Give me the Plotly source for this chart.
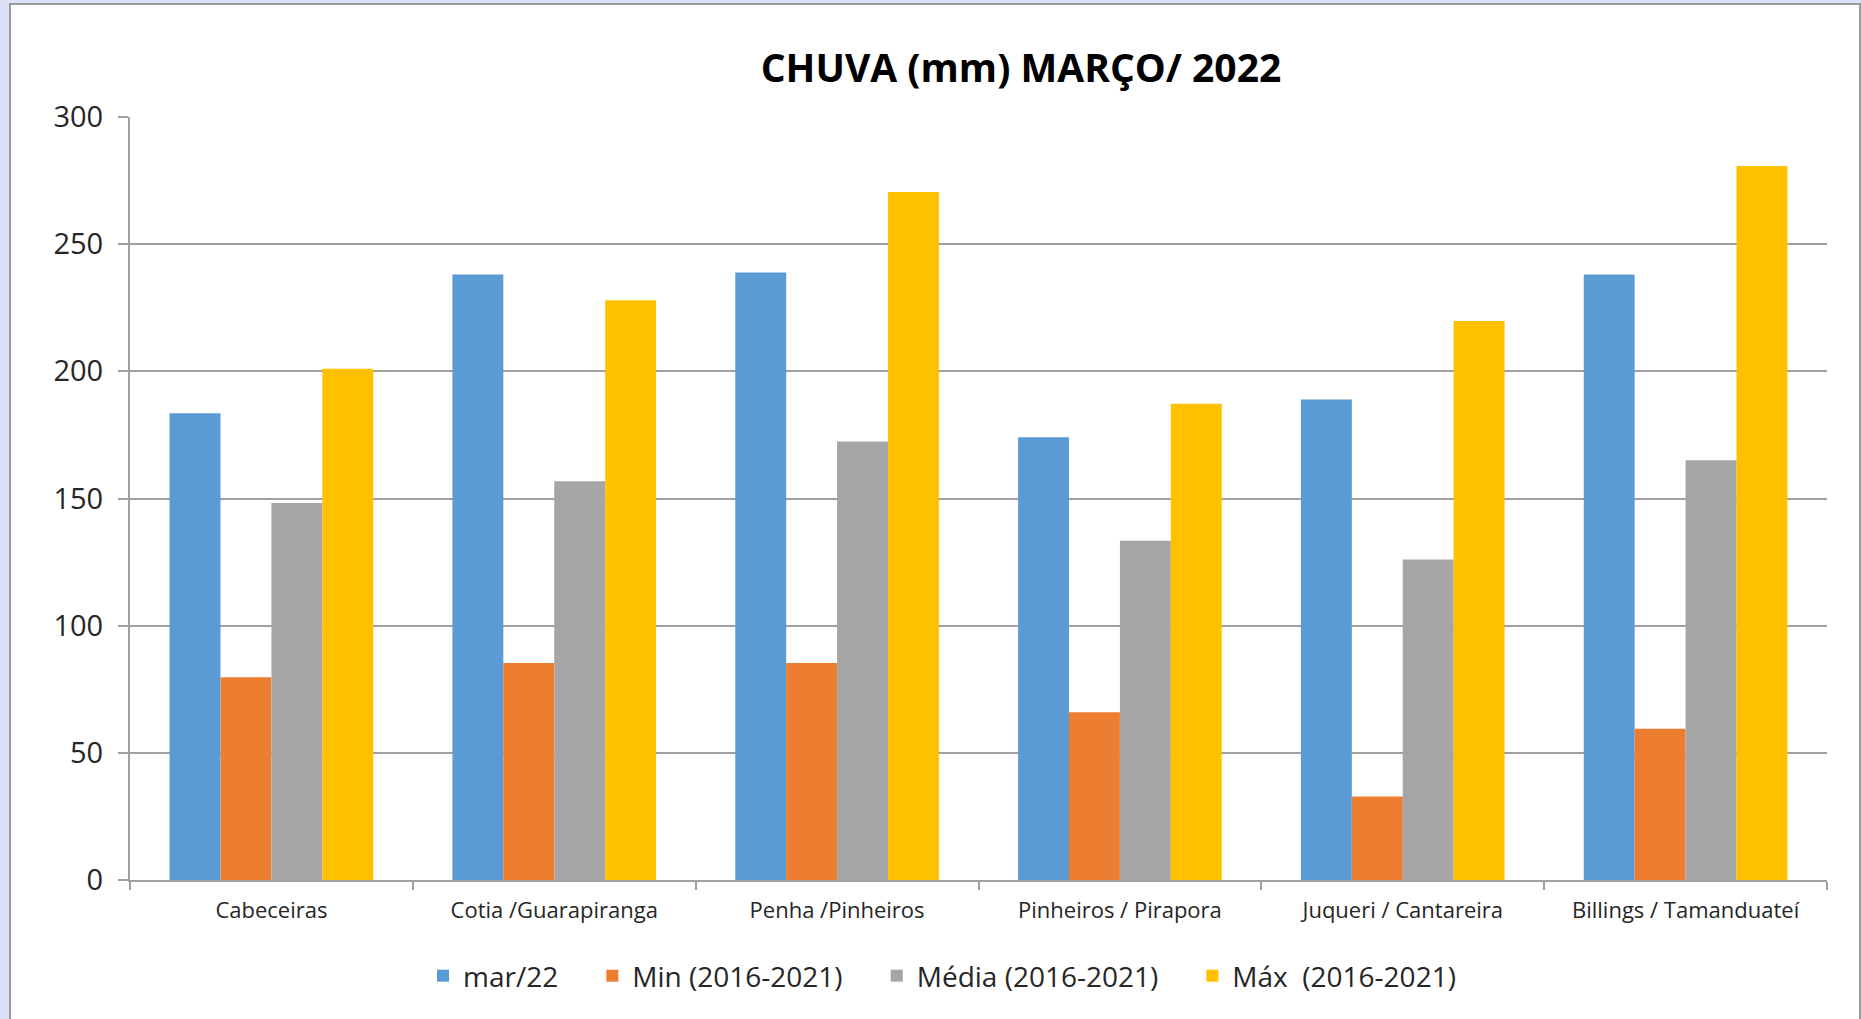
import plotly.graph_objects as go

categories = ["Cabeceiras", "Cotia /Guarapiranga", "Penha /Pinheiros",
              "Pinheiros / Pirapora", "Juqueri / Cantareira", "Billings / Tamanduateí"]
mar22 = [183.5, 238.1, 238.9, 174.1, 188.9, 238.1]
min_16_21 = [79.7, 85.3, 85.3, 66.0, 32.8, 59.5]
media_16_21 = [148.2, 156.8, 172.4, 133.4, 126.0, 165.0]
max_16_21 = [201.0, 227.9, 270.5, 187.3, 219.8, 280.7]

series_names = ["mar/22", "Min (2016-2021)", "Média (2016-2021)", "Máx  (2016-2021)"]
series_values = [mar22, min_16_21, media_16_21, max_16_21]
colors = ["#5B9BD5", "#ED7D31", "#A5A5A5", "#FFC000"]

W, H = 1861, 1019
L, R, T, B = 130, 34, 117, 139
pw, ph = W - L - R, H - T - B
BG = "#dbe2f8"
PAD = "\u00a0" * 4  # extra spacing between legend entries

fig = go.Figure()
for i, (name, vals, c) in enumerate(zip(series_names, series_values, colors)):
    label = name + (PAD if i < len(series_names) - 1 else "")
    fig.add_trace(go.Bar(x=categories, y=vals, name=label, marker=dict(color=c, line=dict(width=0))))

def px_x(p):
    return (p - L) / pw

def px_y(p):
    return (H - B - p) / ph

fig.update_layout(
    width=W, height=H,
    margin=dict(l=L, r=R, t=T, b=B, pad=0),
    paper_bgcolor=BG,
    plot_bgcolor="rgba(0,0,0,0)",
    barmode="group",
    bargap=0.28,
    bargroupgap=0,
    font=dict(family="Open Sans, sans-serif", color="#262626"),
    title=dict(text="<b>CHUVA (mm) MARÇO/ 2022</b>", x=1021 / W, y=1 - 68 / H,
               xanchor="center", yanchor="middle",
               font=dict(size=39, color="#000000", family="Open Sans, sans-serif")),
    showlegend=True,
    legend=dict(orientation="h", x=px_x(942), y=px_y(976), xanchor="center", yanchor="middle",
                font=dict(size=28, color="#262626"), bgcolor="rgba(0,0,0,0)",
                itemwidth=30, tracegroupgap=0),
    shapes=[dict(type="rect", xref="paper", yref="paper",
                 x0=px_x(10), x1=px_x(1860), y0=px_y(1030), y1=px_y(4),
                 fillcolor="white", line=dict(color="#9a9a9a", width=2), layer="below")],
)
fig.update_yaxes(range=[0, 300], dtick=50, showgrid=True, gridcolor="#a0a0a0", gridwidth=2,
                 showline=True, linecolor="#a0a0a0", linewidth=2,
                 ticks="outside", ticklen=10, tickcolor="#a0a0a0", tickwidth=2,
                 ticklabelstandoff=9, tickfont=dict(size=29, color="#262626"),
                 zeroline=False, fixedrange=True)
fig.update_xaxes(showline=True, linecolor="#a0a0a0", linewidth=2,
                 ticks="outside", ticklen=8, tickcolor="#a0a0a0", tickwidth=2,
                 tickson="boundaries", showgrid=False,
                 ticklabelstandoff=10, tickfont=dict(size=22, color="#262626"), fixedrange=True)

fig.write_html("out.html", config={"displayModeBar": False},
               post_script="document.body.style.margin='0';document.body.style.padding='0';"
                           "document.body.style.background='" + BG + "';"
                           "document.body.style.overflow='hidden';")
